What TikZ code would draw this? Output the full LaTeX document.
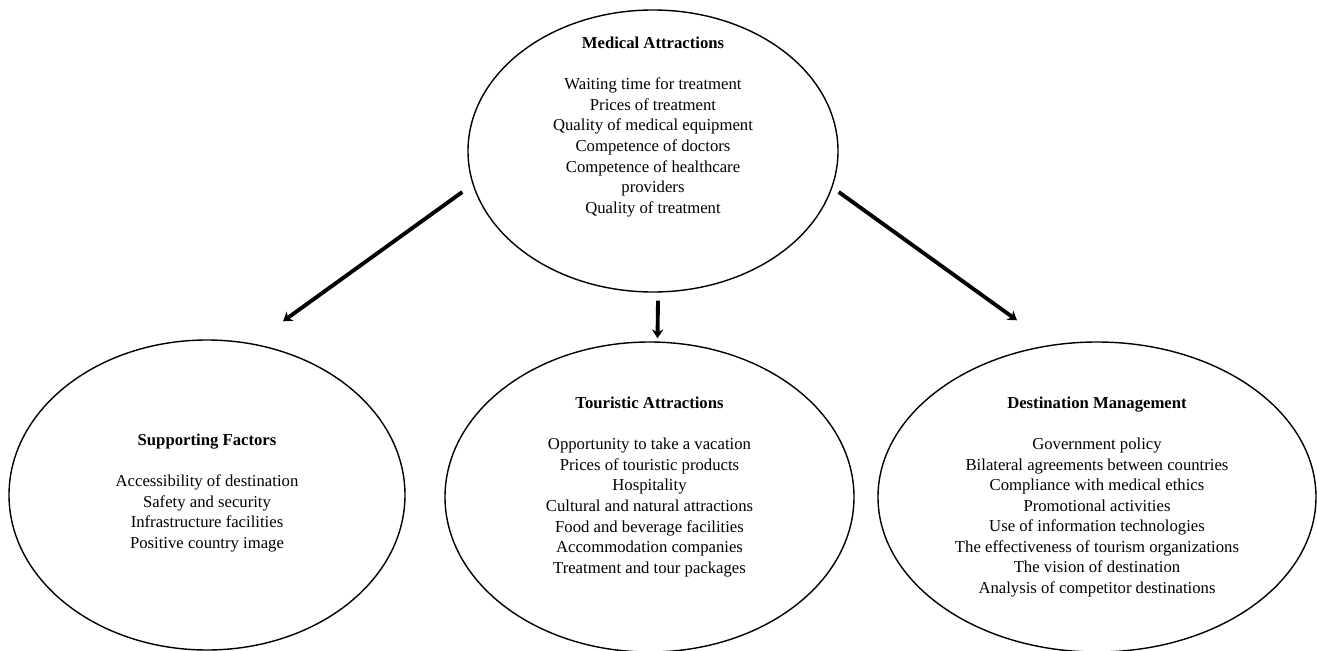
\documentclass[tikz,border=0pt]{standalone}
\usepackage{fontspec}
\setmainfont{Liberation Serif}
\usetikzlibrary{shapes.geometric, arrows.meta, positioning}

\begin{document}
\begin{tikzpicture}[
    bubble/.style={draw, ellipse, line width=0.8pt, inner sep=0pt},
    factors/.style={align=center, font=\fontsize{9.5}{11.7}\selectfont},
    flow/.style={line width=2.2pt, -{Stealth[length=5pt,width=6.5pt]}}
  ]
  \useasboundingbox (0,0) rectangle (26.34,-13.02);
  % Ellipsen
  \node[bubble, minimum width=7.4cm, minimum height=5.64cm] (med) at (13.06,-3.02) {};
  \node[bubble, minimum width=7.92cm, minimum height=6.2cm] (sup) at (4.14,-9.9) {};
  \node[bubble, minimum width=8.18cm, minimum height=6.2cm] (tour) at (12.99,-9.94) {};
  \node[bubble, minimum width=8.76cm, minimum height=6.2cm] (dest) at (21.94,-9.94) {};
  % Texte
  \node[factors] (medtext) at ([yshift=0.48cm]med.center) {\textbf{Medical Attractions}\\[0.41cm]
    Waiting time for treatment\\ Prices of treatment\\ Quality of medical equipment\\
    Competence of doctors\\ Competence of healthcare\\ providers\\ Quality of treatment};
  \node[factors] (suptext) at ([yshift=0.04cm]sup.center) {\textbf{Supporting Factors}\\[0.41cm]
    Accessibility of destination\\ Safety and security\\ Infrastructure facilities\\
    Positive country image};
  \node[factors] (tourtext) at ([yshift=0.2cm]tour.center) {\textbf{Touristic Attractions}\\[0.41cm]
    Opportunity to take a vacation\\ Prices of touristic products\\ Hospitality\\
    Cultural and natural attractions\\ Food and beverage facilities\\
    Accommodation companies\\ Treatment and tour packages};
  \node[factors] (desttext) at (dest.center) {\textbf{Destination Management}\\[0.41cm]
    Government policy\\ Bilateral agreements between countries\\
    Compliance with medical ethics\\ Promotional activities\\
    Use of information technologies\\ The effectiveness of tourism organizations\\
    The vision of destination\\ Analysis of competitor destinations};
  % Pfeile
  \draw[flow] ([shift={(-0.1,-0.82)}]med.west) -- ([shift={(1.52,0.36)}]sup.north);
  \draw[flow] ([shift={(0.1,-0.16)}]med.south) -- ([shift={(0.16,0.06)}]tour.north);
  \draw[flow] ([shift={(0,-0.82)}]med.east) -- ([shift={(-1.6,0.42)}]dest.north);
\end{tikzpicture}
\end{document}
